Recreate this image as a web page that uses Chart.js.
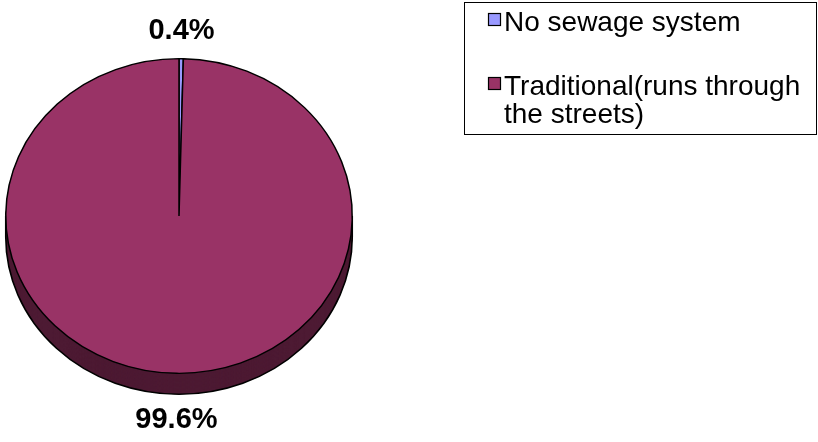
<!DOCTYPE html>
<html>
<head>
<meta charset="utf-8">
<script src="https://cdn.jsdelivr.net/npm/chart.js@4.4.1/dist/chart.umd.min.js"></script>
<style>
  html, body { margin: 0; padding: 0; background: #fff; }
  #wrap { position: relative; width: 818px; height: 442px; }
</style>
</head>
<body>
<div id="wrap"><canvas id="pie"></canvas></div>
<script>
// 데이터
const categories = ["No sewage system", "Traditional(runs through the streets)"];
const values = [0.4, 99.6];
const sliceColors = ["#9999FF", "#993366"];

// 3D 모양 설정
const squash = 0.908;   // 세로 눌림 비율
const depth = 21;       // 옆면 두께(px)

function darken(hex, f) {
  const c = hex.replace('#', '');
  const r = Math.round(parseInt(c.substr(0, 2), 16) * f);
  const g = Math.round(parseInt(c.substr(2, 2), 16) * f);
  const b = Math.round(parseInt(c.substr(4, 2), 16) * f);
  return `rgb(${r},${g},${b})`;
}

// 원을 타원으로 누르고 옆면 그리기
const pie3d = {
  id: 'pie3d',
  beforeDatasetsDraw(chart) {
    const ctx = chart.ctx;
    const arcs = chart.getDatasetMeta(0).data;
    const cx = arcs[0].x, cy = arcs[0].y;
    ctx.save();
    ctx.translate(cx, cy);
    ctx.scale(1, squash);
    ctx.translate(-cx, -cy);

    // 옆면 (두께)
    const d = depth / squash;
    for (let s = d; s > 0; s -= 0.5) {
      arcs.forEach((a, i) => {
        ctx.beginPath();
        ctx.moveTo(a.x, a.y + s);
        ctx.arc(a.x, a.y + s, a.outerRadius, a.startAngle, a.endAngle);
        ctx.closePath();
        ctx.fillStyle = darken(sliceColors[i], 0.5);
        ctx.fill();
      });
    }
    // 옆면 외곽선
    const r = arcs[0].outerRadius;
    ctx.lineWidth = 1.6;
    ctx.strokeStyle = '#000';
    ctx.beginPath();
    ctx.arc(cx, cy + d, r, 0, Math.PI);
    ctx.stroke();
    ctx.beginPath();
    ctx.moveTo(cx - r, cy); ctx.lineTo(cx - r, cy + d);
    ctx.moveTo(cx + r, cy); ctx.lineTo(cx + r, cy + d);
    ctx.stroke();
  },
  afterDatasetsDraw(chart) {
    chart.ctx.restore();
  },
  afterDraw(chart) {
    const ctx = chart.ctx;
    const arcs = chart.getDatasetMeta(0).data;
    const total = values.reduce((a, b) => a + b, 0);

    // 퍼센트 라벨
    ctx.save();
    ctx.fillStyle = '#000';
    ctx.font = 'bold 29px "Liberation Sans", Arial, sans-serif';
    ctx.textAlign = 'center';
    ctx.textBaseline = 'middle';
    arcs.forEach((a, i) => {
      const mid = (a.startAngle + a.endAngle) / 2;
      const off = 28;
      const x = a.x + Math.cos(mid) * (a.outerRadius + off);
      let y = a.y + Math.sin(mid) * (a.outerRadius * squash + off);
      if (Math.sin(mid) > 0) y += depth - 2;
      const pct = (values[i] / total * 100).toFixed(1) + '%';
      ctx.fillText(pct, x, y);
    });
    ctx.restore();

    // 범례 상자
    ctx.save();
    ctx.strokeStyle = '#000';
    ctx.lineWidth = 1;
    ctx.strokeRect(464.5, 2.5, 352, 132);
    ctx.font = '28px "Liberation Sans", Arial, sans-serif';
    ctx.textBaseline = 'alphabetic';
    ctx.textAlign = 'left';
    const tx = 504, maxW = 305;
    let base = 31;
    categories.forEach((label, i) => {
      // 정사각형
      ctx.fillStyle = sliceColors[i];
      ctx.fillRect(488, base - 18, 13, 13);
      ctx.lineWidth = 1.2;
      ctx.strokeStyle = '#000';
      ctx.strokeRect(488.5, base - 17.5, 12, 12);
      // 글자 줄바꿈
      const words = label.split(' ');
      const lines = [];
      let line = '';
      words.forEach(w => {
        const test = line ? line + ' ' + w : w;
        if (ctx.measureText(test).width > maxW && line) {
          lines.push(line);
          line = w;
        } else {
          line = test;
        }
      });
      lines.push(line);
      ctx.fillStyle = '#000';
      lines.forEach((l, j) => ctx.fillText(l, tx, base + j * 28));
      base += 64;
    });
    ctx.restore();
  }
};

new Chart(document.getElementById('pie'), {
  type: 'pie',
  data: {
    labels: categories,
    datasets: [{
      data: values,
      backgroundColor: sliceColors,
      borderColor: '#000',
      borderWidth: 1.5,
      clip: false
    }]
  },
  options: {
    responsive: true,
    maintainAspectRatio: false,
    animation: false,
    events: [],
    layout: { padding: { left: 5, right: 465, top: 42, bottom: 52 } },
    plugins: {
      legend: { display: false },
      tooltip: { enabled: false }
    }
  },
  plugins: [pie3d]
});
</script>
</body>
</html>
